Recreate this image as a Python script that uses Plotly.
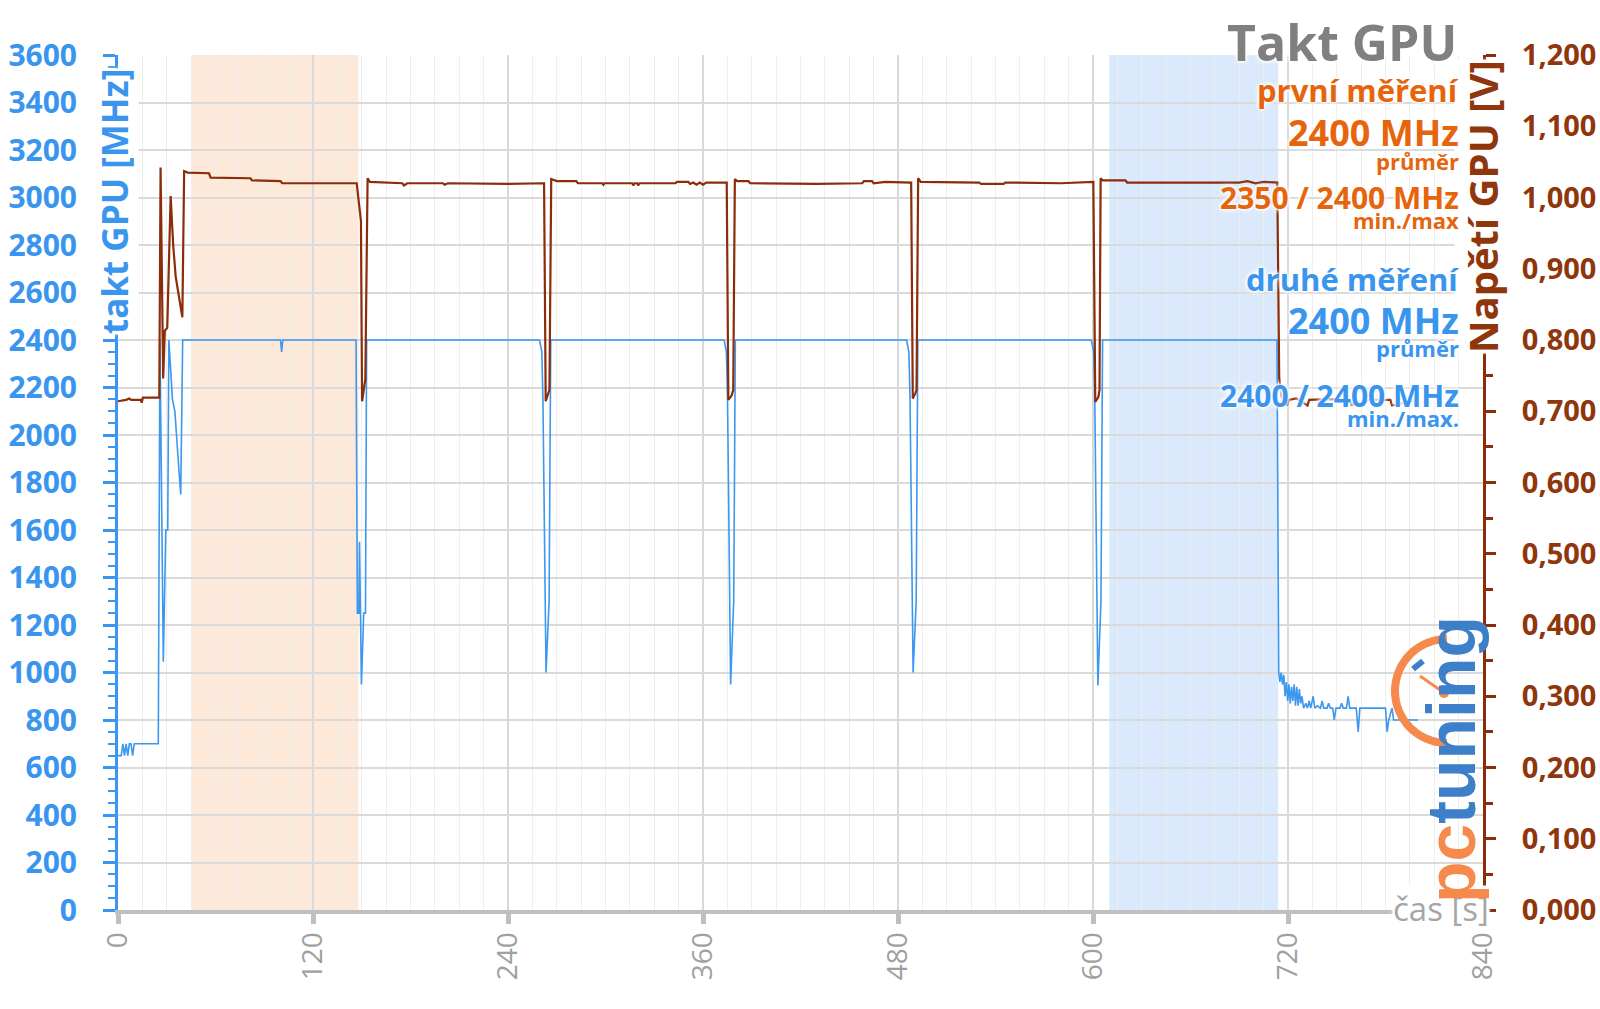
import numpy as np
import plotly.graph_objects as go

# ---------------- data ----------------
clock_t = [0, 2, 3, 4, 5, 6, 7, 8, 9, 10, 24.8,
           25.8, 27.9, 29.4, 30.6, 31.3, 33.5, 35, 37, 38.6, 39.8,
           100, 100.7, 101.4,
           146.5, 147.3, 148.2, 148.6, 149.8, 151.2, 152.3, 153.0,
           259.4, 260.8, 261.5, 263.4, 265.3, 266.3,
           373.0, 374.4, 375.1, 377.0, 378.9, 379.9,
           485.3, 486.7, 487.4, 489.3, 491.2, 492.2,
           599.0, 600.4, 601.1, 603.0, 604.9, 605.9,
           713.2, 714.3, 715.0, 715.8, 716.6, 717.4, 718.2, 719.0, 719.8, 720.6,
           721.4, 722.2, 723.0, 723.8, 724.6, 725.4, 726.2, 727.0, 727.8, 728.6,
           729.6, 731, 732, 733, 734, 735.5, 736.5, 738, 740, 741, 742, 744, 745,
           746, 747.5, 748.5, 749.5, 752, 753, 754, 756, 757, 758, 762, 763.2,
           764.2, 770, 776, 780, 781, 782, 784, 785, 800]
clock_mhz = [650, 650, 700, 650, 700, 650, 700, 700, 650, 700, 700,
             2400, 1045, 1600, 1600, 2400, 2150, 2100, 1900, 1750, 2400,
             2400, 2350, 2400,
             2400, 1250, 1250, 1550, 950, 1250, 1250, 2400,
             2400, 2350, 2150, 1000, 1300, 2400,
             2400, 2350, 2150, 950, 1300, 2400,
             2400, 2350, 2150, 1000, 1300, 2400,
             2400, 2350, 2150, 945, 1300, 2400,
             2400, 1000, 960, 1000, 950, 990, 900, 960, 880, 950,
             870, 940, 880, 950, 860, 940, 860, 930, 870, 900,
             850, 870, 850, 880, 850, 900, 850, 860, 850, 880, 850, 850, 870,
             850, 850, 800, 850, 850, 870, 850, 850, 900, 850, 850, 750,
             850, 850, 850, 850, 750, 800, 850, 800, 800]

volt_t = [0, 5, 7, 8, 14, 14.6, 15.3, 25.4,
          26.2, 27.8, 28.8, 30.3, 32.4, 34.0, 35.5, 39.6, 40.7,
          43, 56, 57, 81.5, 82.5, 100, 101, 146.9,
          149.5, 150.2, 152.2, 153.6,
          155, 175, 176, 178, 200, 201, 203, 240, 262.2,
          263.2, 264.8, 265.5, 266.6,
          270, 282, 283, 298, 298.7, 299.4, 316.5, 317.1, 318, 319.5, 320.1, 321,
          343, 344, 351, 352, 354, 356, 358, 360, 362, 374.6,
          375.6, 377.6, 378.6, 379.6,
          381, 388, 389, 430, 458, 459, 464, 465, 472, 488.1,
          489.1, 490.7, 491.4, 492.4,
          494, 530, 531, 545, 546, 580, 598, 600.2,
          601.4, 603.3, 604.0, 604.7,
          606, 620, 621, 690, 695, 700, 705, 710, 713.4,
          714.6, 716, 718, 719.4, 720.5, 725, 732, 733, 745, 758, 759, 770,
          783, 784, 799]
volt_v = [0.714, 0.716, 0.718, 0.716, 0.716, 0.712, 0.719, 0.719,
          1.042, 0.746, 0.813, 0.817, 1.002, 0.932, 0.889, 0.832, 1.037,
          1.035, 1.034, 1.028, 1.027, 1.024, 1.023, 1.020, 1.020,
          0.967, 0.714, 0.745, 1.027,
          1.022, 1.020, 1.017, 1.020, 1.020, 1.018, 1.020, 1.019, 1.020,
          0.714, 0.725, 0.730, 1.026,
          1.023, 1.023, 1.020, 1.020, 1.018, 1.020, 1.020, 1.017, 1.020, 1.020, 1.017, 1.020,
          1.020, 1.022, 1.022, 1.019, 1.021, 1.018, 1.021, 1.018, 1.021, 1.021,
          0.716, 0.722, 0.730, 1.026,
          1.023, 1.023, 1.020, 1.019, 1.020, 1.023, 1.023, 1.020, 1.022, 1.021,
          0.718, 0.725, 0.730, 1.027,
          1.022, 1.021, 1.019, 1.019, 1.021, 1.020, 1.022, 1.022,
          0.713, 0.720, 0.730, 1.027,
          1.024, 1.024, 1.021, 1.021, 1.023, 1.020, 1.022, 1.021, 1.021,
          0.746, 0.720, 0.716, 0.708, 0.716, 0.718, 0.708, 0.716, 0.717, 0.716, 0.709, 0.716,
          0.716, 0.708, 0.716]

first_window = [45, 148]     # s, highlighted first measurement window
second_window = [610, 714]   # s, highlighted second measurement window

# ---------------- styling ----------------
BLUE = '#3a96f0'
BLUE_TXT = '#3a95ee'
BROWN = '#8b2c0a'
BROWN_TXT = '#8f360c'
ORANGE = '#e6650c'
GRAY_T = '#808080'
FONT = 'Open Sans'
GLOW = '0px 0px 3px white, 0px 0px 3px white, 0px 0px 5px white, 0px 0px 6px white'

W, H = 1600, 1009
L, R, T, B = 118, 117, 55, 99
PW, PH = W - L - R, H - T - B


def px(fx):
    return (fx - L) / PW


def py(fy):
    return (H - B - fy) / PH


fig = go.Figure()
fig.add_trace(go.Scatter(x=clock_t, y=clock_mhz, mode='lines', yaxis='y',
                         line=dict(color='#3b97ef', width=1.6), hoverinfo='skip'))
fig.add_trace(go.Scatter(x=volt_t, y=volt_v, mode='lines', yaxis='y2',
                         line=dict(color=BROWN, width=2.2), hoverinfo='skip'))

shapes = [
    dict(type='rect', xref='x', yref='paper', x0=first_window[0], x1=first_window[1],
         y0=0, y1=1, fillcolor='#fde9d9', line=dict(width=0), layer='below'),
    dict(type='rect', xref='x', yref='paper', x0=second_window[0], x1=second_window[1],
         y0=0, y1=1, fillcolor='#dae9fb', line=dict(width=0), layer='below'),
]

# pctuning logo: clock arc + hand
cx, cy, r = 1447, 691, 52
th = np.linspace(np.pi / 2, 3 * np.pi / 2, 40)
pts = [(px(cx + r * np.cos(a)), py(cy - r * np.sin(a))) for a in th]
path = 'M ' + ' L '.join(f'{a:.5f},{b:.5f}' for a, b in pts)
shapes.append(dict(type='path', xref='paper', yref='paper', path=path,
                   line=dict(color='#f58a4c', width=8), layer='above'))
shapes.append(dict(type='line', xref='paper', yref='paper', x0=px(1420), y0=py(676),
                   x1=px(1443), y1=py(692), line=dict(color='#f58a4c', width=3)))
shapes.append(dict(type='circle', xref='paper', yref='paper', x0=px(1439), y0=py(688),
                   x1=px(1449), y1=py(698), fillcolor='#f58a4c', line=dict(width=0)))
shapes.append(dict(type='line', xref='paper', yref='paper', x0=px(1413), y0=py(669),
                   x1=px(1423), y1=py(661), line=dict(color='#3d7fc8', width=6)))

ann = []

# axis titles sitting on the axis lines (drawn first, text block goes on top)
ann.append(dict(text='takt GPU [MHz]', xref='paper', yref='paper', x=px(115), y=py(202),
                xanchor='center', yanchor='middle', textangle=-90, showarrow=False,
                bgcolor='white', borderpad=0,
                font=dict(family=FONT, size=35, color=BLUE_TXT, weight=700, shadow=GLOW)))
ann.append(dict(text='Napětí GPU [V]', xref='paper', yref='paper', x=px(1482), y=py(207),
                xanchor='center', yanchor='middle', textangle=-90, showarrow=False,
                bgcolor='white', borderpad=0,
                font=dict(family=FONT, size=40, color=BROWN_TXT, weight=700, shadow=GLOW)))
ann.append(dict(text='čas [s]', xref='paper', yref='paper', x=px(1490), y=py(908),
                xanchor='right', yanchor='middle', showarrow=False,
                bgcolor='white', borderpad=0,
                font=dict(family=FONT, size=33, color='#a6a6a6', shadow=GLOW)))
# logo text
ann.append(dict(text="<span style='color:#f58a4c'>pc</span><span style='color:#3d7fc8'>tuning</span>",
                xref='paper', yref='paper', x=px(1451), y=py(760), xanchor='center',
                yanchor='middle', textangle=-90, showarrow=False,
                font=dict(family='Liberation Sans', size=68, weight=700)))


def add_text(text, fy, size, color, fx=1461, weight=700):
    ann.append(dict(text=text, xref='paper', yref='paper', x=px(fx), y=py(fy),
                    xanchor='right', yanchor='middle', showarrow=False,
                    font=dict(family=FONT, size=size, color=color, weight=weight, shadow=GLOW)))


add_text('Takt GPU', 42, 50, GRAY_T, fx=1459)
add_text('první měření', 90, 31, ORANGE)
add_text('2400 MHz', 133, 36, ORANGE)
add_text('průměr', 161, 22, ORANGE)
add_text('2350 / 2400 MHz', 197, 30, ORANGE)
add_text('min./max', 220, 22, ORANGE)
add_text('druhé měření', 279, 31, BLUE_TXT)
add_text('2400 MHz', 320, 36, BLUE_TXT)
add_text('průměr', 348, 22, BLUE_TXT)
add_text('2400 / 2400 MHz', 395, 30, BLUE_TXT)
add_text('min./max.', 418, 22, BLUE_TXT)

fig.update_layout(
    width=W, height=H, margin=dict(l=L, r=R, t=T, b=B, autoexpand=False),
    paper_bgcolor='white', plot_bgcolor='white', showlegend=False,
    separators=', ',
    shapes=shapes, annotations=ann,
    xaxis=dict(range=[0, 840], tick0=0, dtick=120, tickangle=-90, automargin=False,
               showline=True, linecolor='#bfbfbf', linewidth=4,
               ticks='outside', ticklen=10, tickwidth=5, tickcolor='#bfbfbf',
               tickfont=dict(family=FONT, size=28, color='#a0a0a0'),
               ticklabelstandoff=-3,
               showgrid=True, gridcolor='#d9d9d9', gridwidth=1.5, zeroline=False,
               minor=dict(dtick=15, showgrid=True, gridcolor='#eeeeee', gridwidth=1)),
    yaxis=dict(range=[0, 3600], tick0=0, dtick=200, automargin=False,
               showline=True, linecolor=BLUE, linewidth=3,
               ticks='outside', ticklen=12, tickwidth=3, tickcolor=BLUE,
               tickfont=dict(family=FONT, size=30, color=BLUE_TXT, weight=700),
               ticklabelstandoff=20,
               showgrid=True, gridcolor='#dadada', gridwidth=1.5, zeroline=False,
               minor=dict(dtick=50, ticks='outside', ticklen=7, tickwidth=2,
                          tickcolor=BLUE, showgrid=False)),
    yaxis2=dict(range=[0, 1.2], tick0=0, dtick=0.1, tickformat='.3f', automargin=False,
                overlaying='y', side='right', anchor='x',
                showline=True, linecolor=BROWN, linewidth=3,
                ticks='outside', ticklen=10, tickwidth=3, tickcolor=BROWN,
                tickfont=dict(family=FONT, size=29, color=BROWN_TXT, weight=700),
                ticklabelstandoff=20, showgrid=False, zeroline=False,
                minor=dict(dtick=0.05, ticks='outside', ticklen=7, tickwidth=2.5,
                           tickcolor=BROWN, showgrid=False)),
    yaxis3=dict(range=[0, 3600], tick0=100, dtick=200, overlaying='y', anchor='x',
                side='left', showticklabels=False, ticks='', showline=False, automargin=False,
                showgrid=True, gridcolor='#eeeeee', gridwidth=1, zeroline=False),
    yaxis4=dict(range=[0, 3600], tick0=0, dtick=200, overlaying='y', anchor='x',
                side='left', showticklabels=False, ticks='inside', ticklen=13, automargin=False,
                tickwidth=3, tickcolor=BLUE, showline=False, showgrid=False, zeroline=False),
    yaxis5=dict(range=[0, 1.2], tick0=0, dtick=0.1, overlaying='y', anchor='x',
                side='right', showticklabels=False, ticks='inside', ticklen=10, automargin=False,
                tickwidth=3, tickcolor=BROWN, showline=False, showgrid=False, zeroline=False),
)

fig.write_html('out.html')
